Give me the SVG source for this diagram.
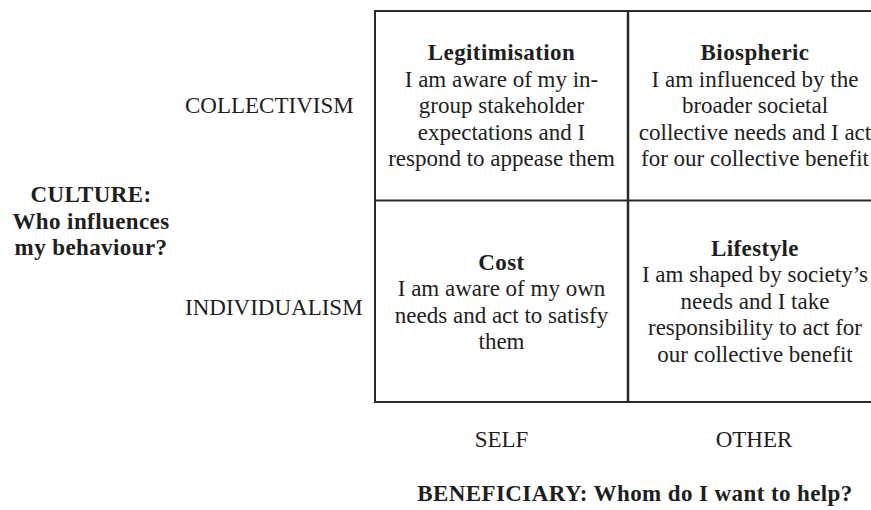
<svg xmlns="http://www.w3.org/2000/svg" width="871" height="510" viewBox="0 0 871 510">
  <style>
    text { font-family: "Liberation Serif", "Times New Roman", serif; font-size: 23px; fill: #1e1e1e; }
    .c { text-anchor: middle; }
    .b { font-weight: bold; letter-spacing: 0.4px; }
    .grid { fill: none; stroke: #2a2a2a; stroke-width: 2; }
  </style>
  <rect width="871" height="510" fill="#ffffff"/>

  <!-- 2x2 matrix frame -->
  <g id="grid">
    <rect class="grid" x="375" y="11" width="507" height="391"/>
    <line class="grid" x1="375" y1="200.5" x2="882" y2="200.5"/>
    <line class="grid" x1="628" y1="11" x2="628" y2="402" style="stroke-width:2.5"/>
  </g>

  <!-- quadrants -->
  <g id="legitimisation">
    <text x="501.5" y="60" class="c b">Legitimisation</text>
    <text x="501.5" y="86.5" class="c">I am aware of my in-</text>
    <text x="501.5" y="113" class="c">group stakeholder</text>
    <text x="501.5" y="139.5" class="c">expectations and I</text>
    <text x="501.5" y="166" class="c">respond to appease them</text>
  </g>
  <g id="biospheric">
    <text x="755" y="60" class="c b">Biospheric</text>
    <text x="755" y="86.5" class="c">I am influenced by the</text>
    <text x="755" y="113" class="c">broader societal</text>
    <text x="755" y="139.5" class="c">collective needs and I act</text>
    <text x="755" y="166" class="c">for our collective benefit</text>
  </g>
  <g id="cost">
    <text x="501.5" y="269.5" class="c b">Cost</text>
    <text x="501.5" y="296" class="c">I am aware of my own</text>
    <text x="501.5" y="322.5" class="c">needs and act to satisfy</text>
    <text x="501.5" y="349" class="c">them</text>
  </g>
  <g id="lifestyle">
    <text x="755" y="255.5" class="c b">Lifestyle</text>
    <text x="755" y="282" class="c">I am shaped by society’s</text>
    <text x="755" y="308.5" class="c">needs and I take</text>
    <text x="755" y="335" class="c">responsibility to act for</text>
    <text x="755" y="361.5" class="c">our collective benefit</text>
  </g>

  <!-- axis labels -->
  <g id="culture-axis">
    <text x="185" y="112.5">COLLECTIVISM</text>
    <text x="185" y="315">INDIVIDUALISM</text>
    <text x="91" y="202" class="c b">CULTURE:</text>
    <text x="91" y="228.5" class="c b">Who influences</text>
    <text x="91" y="255" class="c b">my behaviour?</text>
  </g>
  <g id="beneficiary-axis">
    <text x="501.5" y="446.5" class="c">SELF</text>
    <text x="754" y="446.5" class="c">OTHER</text>
    <text x="635" y="501" class="c b">BENEFICIARY: Whom do I want to help?</text>
  </g>
</svg>
